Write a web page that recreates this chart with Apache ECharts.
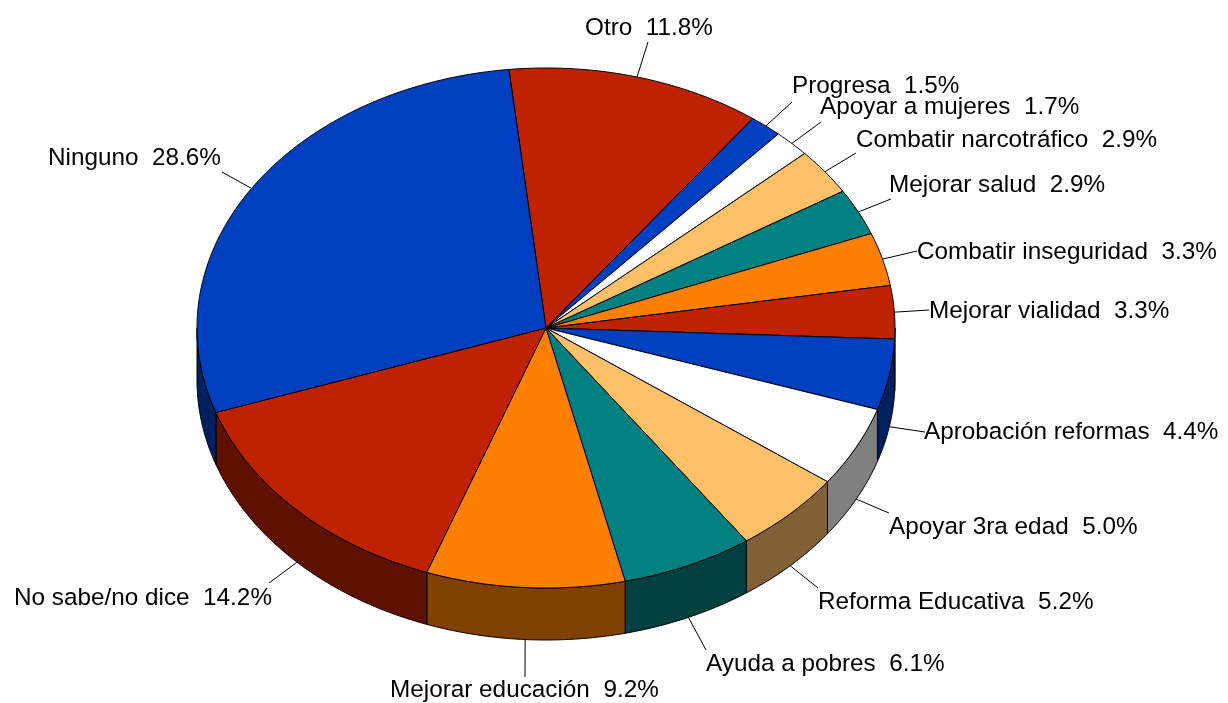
<!DOCTYPE html>
<html><head><meta charset="utf-8">
<style>html,body{margin:0;padding:0;background:#fff}#c{width:1228px;height:703px}</style>
<script src="https://cdn.jsdelivr.net/npm/echarts@6/dist/echarts.min.js"></script>
</head><body><div id="c"></div>
<script>
const categories = ['Otro','Progresa','Apoyar a mujeres','Combatir narcotráfico','Mejorar salud','Combatir inseguridad','Mejorar vialidad','Aprobación reformas','Apoyar 3ra edad','Reforma Educativa','Ayuda a pobres','Mejorar educación','No sabe/no dice','Ninguno'];
const values = [11.8,1.5,1.7,2.9,2.9,3.3,3.3,4.4,5.0,5.2,6.1,9.2,14.2,28.6];
const topColors = ['#BE2200','#003FBF','#FFFFFF','#FFC068','#008080','#FF8000','#BE2200','#003FBF','#FFFFFF','#FFC068','#008080','#FF8000','#BE2200','#003FBF'];
const sideColors = ['#5F1100','#002060','#808080','#806034','#004040','#804000','#5F1100','#002060','#808080','#806034','#004040','#804000','#5F1100','#002060'];
// label anchors (left x, middle y) and the outer end of each leader line
const labelX = [585,792,820,856,889,917,929,924,889,818,706,390,14,48];
const labelY = [28,86,107,140,185,252,311,432,527,602,664,690,598,158];
const leaderX = [648,792,821,856,891,917,929,925,889,818,706,525,269,222];
const leaderY = [42,102,122,153,199,251,310,432,513,588,650,677,583,172];

const CX=546, CY=328, RX=349, RY=260, DEPTH=52, START=-6.1;
const total = values.reduce((a,b)=>a+b,0);
const rad = d => d*Math.PI/180;
const rim = (deg,dy=0) => [CX+RX*Math.sin(rad(deg)), CY-RY*Math.cos(rad(deg))+dy];
function span(i){
  let a=START; for(let k=0;k<i;k++) a+=values[k]/total*360;
  return [a,a+values[i]/total*360];
}
function arc(a,b,dy=0){
  const n=Math.max(2,Math.ceil((b-a)*2)), p=[];
  for(let k=0;k<=n;k++) p.push(rim(a+(b-a)*k/n,dy));
  return p;
}
const stroke={stroke:'#000',lineWidth:1};
function renderSide(params,api){
  const [a,b]=span(params.dataIndex);
  const s=Math.max(a,90), e=Math.min(b,270);
  if(e<=s) return null;
  const pts=arc(s,e,0).concat(arc(s,e,DEPTH).reverse());
  return {type:'polygon',shape:{points:pts},style:{fill:sideColors[params.dataIndex],...stroke}};
}
function renderTop(params,api){
  const [a,b]=span(params.dataIndex);
  const pts=[[CX,CY]].concat(arc(a,b,0));
  return {type:'polygon',shape:{points:pts},style:{fill:topColors[params.dataIndex],...stroke,lineJoin:'round'}};
}
function renderLabel(params,api){
  const i=params.dataIndex, [a,b]=span(i), m=(a+b)/2;
  const front=m>100&&m<260;
  const st=rim(m,front?DEPTH:0);
  return {type:'group',children:[
    {type:'line',shape:{x1:st[0],y1:st[1],x2:leaderX[i],y2:leaderY[i]},style:{...stroke,fill:null}},
    {type:'text',x:labelX[i],y:labelY[i],style:{text:categories[i]+'  '+values[i].toFixed(1)+'%',fill:'#000',
      font:'24.3px "Liberation Sans", Arial, sans-serif',textAlign:'left',textVerticalAlign:'middle'}}
  ]};
}
const data=values.map((v,i)=>({name:categories[i],value:v}));
const chart=echarts.init(document.getElementById('c'),null,{renderer:'canvas'});
chart.setOption({
  animation:false,
  backgroundColor:'#fff',
  series:[
    {type:'custom',coordinateSystem:'none',silent:true,z:1,renderItem:renderSide,data},
    {type:'custom',coordinateSystem:'none',silent:true,z:2,renderItem:renderTop,data},
    {type:'custom',coordinateSystem:'none',silent:true,z:3,renderItem:renderLabel,data}
  ]
});
</script></body></html>
